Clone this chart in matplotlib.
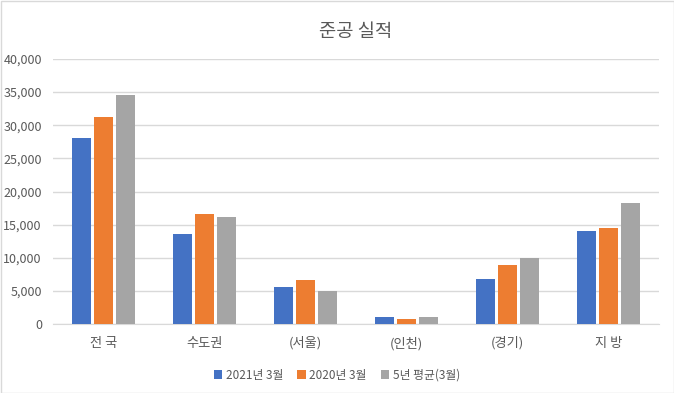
import matplotlib
matplotlib.use("Agg")
import matplotlib.pyplot as plt
import numpy as np
from matplotlib.patches import Rectangle

plt.rcParams['font.family'] = ['Noto Sans CJK KR', 'DejaVu Sans']

categories = ["전 국", "수도권", "(서울)", "(인천)", "(경기)", "지 방"]
series_names = ["2021년 3월", "2020년 3월", "5년 평균(3월)"]
s2021 = [28000, 13600, 5600, 1100, 6850, 14100]
s2020 = [31300, 16650, 6700, 800, 8950, 14550]
s5yr = [34600, 16200, 5050, 1100, 10000, 18300]
colors = ["#4472C4", "#ED7D31", "#A5A5A5"]
yticks = [0, 5000, 10000, 15000, 20000, 25000, 30000, 35000, 40000]

fig = plt.figure(figsize=(6.74, 3.93), dpi=100)
ax = fig.add_axes([53/674, 69/393, 606/674, 265/393])

x = np.arange(len(categories))
w = 0.18
off = 0.218
for i, (vals, name, c) in enumerate(zip([s2021, s2020, s5yr], series_names, colors)):
    ax.bar(x + (i - 1) * off, vals, width=w, color=c, label=name, zorder=3)

ax.set_xlim(-0.5, len(categories) - 0.5)
ax.set_ylim(0, 40000)
ax.set_yticks(yticks)
ax.set_yticklabels([f"{v:,}" for v in yticks], color="#595959", fontsize=9)
ax.set_xticks(x)
ax.set_xticklabels(categories, color="#595959", fontsize=9.5)
ax.tick_params(axis='both', length=0)
ax.tick_params(axis='x', pad=9)
ax.tick_params(axis='y', pad=8)
ax.grid(axis='y', color="#D9D9D9", linewidth=1, zorder=0)
for s in ["top", "right", "left"]:
    ax.spines[s].set_visible(False)
ax.spines["bottom"].set_color("#D9D9D9")

ax.set_title("준공 실적", color="#595959", fontsize=13.5, pad=16)

leg = fig.legend(loc="center", bbox_to_anchor=(0.5, 18/393), ncol=3, frameon=False,
                 fontsize=8.5, handlelength=0.7, handleheight=0.7, handletextpad=0.3,
                 columnspacing=1.2)
for t in leg.get_texts():
    t.set_color("#595959")

fig.patches.append(Rectangle((0.5/674, 0.5/393), 1 - 1/674, 1 - 1/393, transform=fig.transFigure,
                             fill=False, edgecolor="#D9D9D9", linewidth=1))

fig.savefig("out.png", dpi=100)
